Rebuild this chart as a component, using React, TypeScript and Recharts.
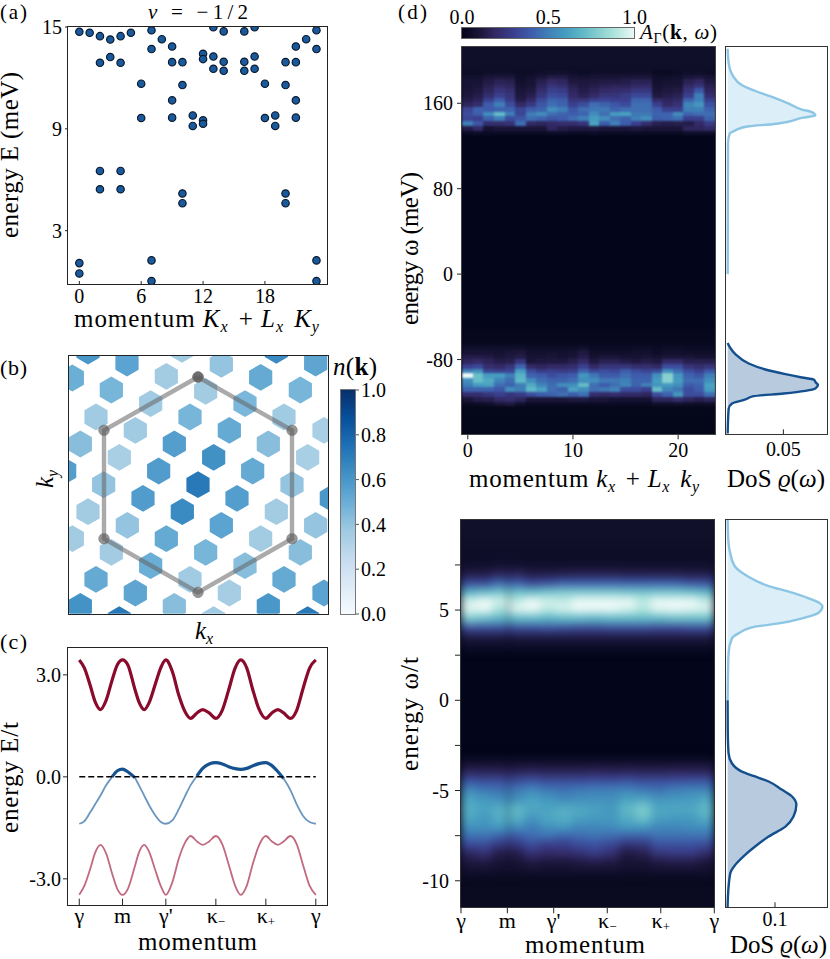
import {
  Area,
  ComposedChart,
  Line,
  ReferenceLine,
  Scatter,
  ScatterChart,
  XAxis,
  YAxis,
} from "recharts";

const SERIF = '"Liberation Serif", serif';

// (a) low energy spectrum, one entry per momentum
const spectrum: [number, number[]][] = [
  [0, [14.72, 1.09, 0.48]],
  [1, [14.66]],
  [2, [14.46, 12.89, 6.52, 5.44]],
  [3, [14.26, 13.23]],
  [4, [14.46, 12.89, 6.52, 5.44]],
  [5, [14.66]],
  [6, [11.66, 9.64]],
  [7, [14.81, 13.7, 1.25, 0.03]],
  [8, [14.28]],
  [9, [13.85, 12.93, 10.68, 9.66]],
  [10, [12.93, 11.58, 5.19, 4.62]],
  [11, [9.79, 9.17]],
  [12, [13.42, 13.11, 9.5, 9.3]],
  [13, [14.99, 13.26, 12.54]],
  [14, [14.74, 12.95, 12.42]],
  [16, [14.74, 12.95, 12.42]],
  [17, [14.99, 13.26, 12.54]],
  [18, [11.66, 9.64]],
  [19, [9.79, 9.17]],
  [20, [12.93, 11.58, 5.19, 4.62]],
  [21, [13.85, 12.93, 10.68, 9.66]],
  [22, [14.28]],
  [23, [14.81, 13.7, 1.25, 0.03]],
];

// (b) occupation n(k) on the momentum grid: kx, ky, n
const occupation: [number, number, number][] = [
  [-3.3, 4.01, 0.6], [-2.13, 3.65, 0.55], [-0.48, 4.06, 0.37], [0.7, 3.61, 0.4], [2.35, 4.03, 0.65], [3.53, 3.65, 0.54],
  [-3.77, 3.2, 0.5], [-0.95, 3.25, 0.36], [1.88, 3.22, 0.52], [-2.6, 2.84, 0.47], [0.23, 2.8, 0.36], [3.07, 2.84, 0.47],
  [-1.42, 2.43, 0.37], [1.41, 2.43, 0.46], [-3.06, 2.03, 0.37], [-0.24, 2.03, 0.47], [2.58, 2.03, 0.37],
  [-1.88, 1.63, 0.37], [0.94, 1.63, 0.52], [3.78, 1.63, 0.34], [-3.53, 1.22, 0.43], [-0.71, 1.22, 0.57], [2.11, 1.22, 0.43],
  [-2.36, 0.82, 0.34], [0.47, 0.82, 0.63], [3.29, 0.82, 0.34], [-4.0, 0.41, 0.57], [-1.18, 0.41, 0.58], [1.64, 0.41, 0.52],
  [-2.83, 0, 0.4], [0, 0, 0.72], [2.82, 0, 0.4], [-1.65, -0.41, 0.58], [1.17, -0.41, 0.57], [4.0, -0.41, 0.6],
  [-3.3, -0.81, 0.36], [-0.47, -0.81, 0.65], [2.35, -0.81, 0.36], [-2.12, -1.22, 0.4], [0.7, -1.22, 0.55], [3.53, -1.22, 0.4],
  [-3.77, -1.62, 0.36], [-0.95, -1.62, 0.52], [1.88, -1.62, 0.36], [-2.6, -2.03, 0.36], [0.23, -2.03, 0.47], [3.07, -2.03, 0.43],
  [-1.42, -2.43, 0.5], [1.41, -2.43, 0.43], [-3.06, -2.84, 0.52], [-0.24, -2.84, 0.37], [2.58, -2.84, 0.52],
  [-1.88, -3.25, 0.54], [0.94, -3.25, 0.35], [3.78, -3.25, 0.55], [-3.53, -3.65, 0.62], [-0.71, -3.65, 0.43], [2.11, -3.65, 0.6],
  [-2.36, -4.05, 0.72], [0.47, -4.05, 0.37], [3.29, -4.05, 0.72],
];
const brillouinZone = [
  { kx: 0, ky: 3.23 }, { kx: 2.82, ky: 1.63 }, { kx: 2.82, ky: -1.62 }, { kx: 0, ky: -3.23 },
  { kx: -2.82, ky: -1.62 }, { kx: -2.82, ky: 1.63 }, { kx: 0, ky: 3.23 },
];

// (c) bands along the path
const pathTicks = [0, 1, 2, 3.155, 4.31, 5.464];
const pathX = [0, 0.12, 0.25, 0.37, 0.49, 0.62, 0.76, 0.88, 1, 1.12, 1.28, 1.38, 1.5, 1.62, 1.75, 1.88, 2, 2.15, 2.3, 2.45, 2.57, 2.72, 2.85, 3, 3.155, 3.3, 3.45, 3.6, 3.73, 3.87, 4, 4.15, 4.31, 4.45, 4.59, 4.72, 4.88, 5.02, 5.17, 5.32, 5.464];
const bandUpper = [3.44, 3.2, 2.7, 2.2, 1.98, 2.25, 2.85, 3.3, 3.44, 3.3, 2.6, 2.2, 1.98, 2.2, 2.7, 3.2, 3.44, 3.1, 2.4, 1.9, 1.72, 1.88, 1.98, 1.88, 1.72, 1.95, 2.55, 3.2, 3.44, 3.2, 2.6, 2.0, 1.72, 1.88, 1.98, 1.88, 1.72, 1.95, 2.6, 3.2, 3.44];
const bandMiddle = [-1.38, -1.3, -1.05, -0.8, -0.55, -0.25, 0, 0.18, 0.23, 0.15, -0.02, -0.25, -0.55, -0.85, -1.12, -1.32, -1.38, -1.28, -0.95, -0.55, -0.25, 0.03, 0.25, 0.38, 0.42, 0.38, 0.3, 0.24, 0.22, 0.25, 0.32, 0.39, 0.42, 0.33, 0.15, -0.05, -0.4, -0.8, -1.15, -1.33, -1.38];
const bandLower = [-3.47, -3.2, -2.72, -2.22, -2.0, -2.25, -2.85, -3.3, -3.47, -3.3, -2.65, -2.22, -2.0, -2.22, -2.72, -3.2, -3.47, -3.1, -2.4, -1.92, -1.74, -1.9, -2.0, -1.9, -1.74, -1.97, -2.57, -3.2, -3.47, -3.2, -2.6, -2.02, -1.74, -1.9, -2.0, -1.9, -1.74, -1.97, -2.6, -3.2, -3.47];

// (d) top: spectral weight in percent, rows by frequency, one value per momentum
const meVRows: [number, number[]][] = [
  [189, [5, 5, 6, 6, 6, 5, 5, 6, 7, 7, 6, 5, 6, 6, 6, 6, 6, 6, 4, 4, 5, 6, 6, 5]],
  [184.6, [7, 7, 10, 11, 10, 6, 7, 10, 13, 13, 9, 8, 9, 9, 9, 10, 10, 10, 6, 6, 7, 10, 11, 9]],
  [180.3, [9, 9, 13, 16, 15, 7, 9, 15, 20, 18, 12, 11, 12, 13, 13, 14, 16, 16, 7, 8, 9, 16, 19, 12]],
  [175.9, [9, 10, 15, 20, 18, 8, 10, 18, 25, 22, 15, 12, 14, 16, 17, 17, 20, 20, 8, 10, 10, 20, 25, 15]],
  [171.6, [10, 12, 18, 25, 22, 10, 12, 22, 30, 28, 18, 14, 17, 20, 21, 22, 26, 26, 10, 12, 13, 25, 38, 18]],
  [167.2, [11, 14, 22, 30, 25, 11, 15, 26, 35, 33, 20, 16, 20, 25, 25, 28, 33, 33, 12, 14, 16, 30, 50, 22]],
  [162.8, [14, 17, 30, 40, 28, 14, 20, 33, 42, 40, 25, 25, 30, 32, 30, 30, 42, 42, 20, 18, 20, 42, 50, 30]],
  [158.5, [18, 22, 40, 50, 35, 20, 27, 38, 45, 42, 30, 35, 45, 42, 38, 34, 45, 45, 30, 20, 24, 52, 58, 36]],
  [154.1, [32, 42, 40, 42, 42, 32, 40, 42, 55, 50, 38, 45, 48, 48, 42, 45, 45, 45, 40, 30, 30, 50, 50, 42]],
  [149.7, [35, 40, 55, 72, 50, 32, 50, 55, 45, 42, 40, 42, 55, 45, 60, 62, 48, 48, 42, 42, 55, 42, 45, 45]],
  [145.4, [32, 30, 42, 50, 35, 38, 45, 42, 38, 40, 45, 50, 60, 55, 45, 42, 50, 55, 40, 42, 45, 30, 30, 42]],
  [141, [50, 38, 22, 22, 24, 45, 20, 18, 20, 22, 22, 25, 62, 40, 50, 40, 30, 22, 15, 14, 15, 14, 20, 28]],
  [136.6, [14, 20, 8, 10, 10, 10, 10, 10, 18, 14, 12, 12, 12, 10, 10, 10, 12, 10, 10, 10, 10, 18, 18, 20]],
  [132.2, [4, 5, 4, 4, 4, 4, 4, 4, 5, 5, 4, 4, 5, 4, 4, 4, 4, 4, 4, 4, 4, 6, 6, 6]],
  [-68.9, [6, 6, 6, 6, 6, 6, 5, 5, 5, 5, 5, 6, 4, 4, 4, 4, 5, 5, 4, 5, 5, 4, 4, 4]],
  [-73.3, [9, 9, 9, 8, 10, 11, 7, 7, 8, 7, 8, 12, 6, 6, 6, 6, 7, 7, 5, 7, 7, 6, 6, 6]],
  [-77.7, [14, 14, 13, 10, 12, 14, 9, 9, 10, 8, 10, 14, 8, 10, 10, 8, 8, 10, 8, 10, 10, 10, 8, 8]],
  [-82.1, [18, 20, 17, 14, 15, 25, 10, 12, 12, 12, 15, 20, 12, 16, 16, 14, 12, 14, 12, 20, 20, 15, 15, 15]],
  [-86.5, [30, 33, 22, 20, 25, 42, 20, 18, 20, 20, 22, 30, 20, 25, 25, 25, 22, 22, 20, 35, 35, 25, 22, 25]],
  [-90.9, [50, 55, 32, 30, 32, 60, 35, 28, 30, 28, 30, 42, 33, 35, 33, 40, 35, 32, 35, 55, 45, 35, 30, 38]],
  [-95.3, [100, 72, 60, 60, 50, 68, 42, 40, 35, 38, 40, 58, 48, 40, 40, 45, 40, 40, 55, 80, 58, 42, 38, 50]],
  [-99.7, [55, 72, 65, 52, 45, 70, 55, 45, 42, 42, 45, 55, 55, 48, 48, 50, 42, 42, 60, 80, 60, 45, 45, 55]],
  [-104, [50, 60, 62, 45, 42, 50, 65, 52, 45, 55, 55, 72, 45, 40, 45, 52, 42, 50, 58, 60, 55, 40, 42, 62]],
  [-108.4, [42, 42, 42, 38, 55, 50, 70, 62, 45, 42, 62, 55, 45, 48, 52, 35, 35, 30, 72, 52, 48, 35, 40, 60]],
  [-112.8, [22, 22, 25, 30, 25, 28, 35, 40, 42, 45, 40, 45, 22, 20, 22, 20, 20, 18, 35, 42, 58, 35, 35, 45]],
  [-117.2, [10, 14, 15, 20, 22, 18, 10, 10, 10, 10, 12, 12, 10, 10, 8, 8, 8, 8, 18, 18, 22, 18, 15, 18]],
  [-121.6, [4, 5, 6, 10, 12, 7, 4, 4, 4, 4, 4, 4, 4, 4, 4, 4, 4, 4, 6, 6, 7, 6, 5, 6]],
];
const meVMomenta = [0, 1, 2, 3, 4, 5, 6, 7, 8, 9, 10, 11, 12, 13, 14, 15, 16, 17, 18, 19, 20, 21, 22, 23];

// (d) bottom: same idea, coarser grid along the path (smoothed when drawn)
const pathColumns = [0.17, 0.51, 0.85, 1.2, 1.54, 1.88, 2.22, 2.56, 2.9, 3.24, 3.59, 3.93, 4.27, 4.61, 4.95, 5.29];
const tRows: [number, number[]][] = [
  [8, [5, 5, 5, 5, 5, 5, 5, 5, 5, 5, 5, 5, 5, 5, 5, 5]],
  [7.5, [6, 6, 7, 7, 6, 6, 6, 6, 6, 6, 6, 6, 6, 6, 6, 6]],
  [7, [13, 13, 17, 17, 13, 13, 14, 15, 15, 15, 14, 14, 14, 14, 13, 13]],
  [6.5, [33, 33, 42, 40, 32, 35, 40, 40, 40, 41, 40, 40, 41, 40, 36, 35]],
  [6, [66, 70, 74, 72, 70, 74, 76, 76, 76, 76, 74, 74, 74, 74, 72, 68]],
  [5.5, [95, 100, 95, 92, 100, 95, 93, 100, 100, 100, 100, 92, 100, 100, 100, 93]],
  [5, [98, 100, 88, 98, 100, 92, 96, 100, 100, 100, 96, 90, 98, 100, 98, 96]],
  [4.5, [76, 72, 68, 70, 70, 68, 70, 70, 68, 70, 70, 70, 70, 72, 72, 72]],
  [4, [34, 34, 34, 34, 34, 36, 34, 32, 32, 34, 34, 34, 32, 32, 34, 34]],
  [3.5, [12, 12, 12, 12, 12, 12, 12, 12, 12, 12, 12, 12, 12, 12, 12, 12]],
  [3, [5, 5, 5, 5, 5, 5, 5, 5, 5, 5, 5, 5, 5, 5, 5, 5]],
  [-3.5, [8, 8, 8, 8, 8, 8, 8, 8, 8, 8, 8, 8, 8, 8, 8, 8]],
  [-4, [19, 18, 18, 18, 19, 18, 18, 18, 19, 18, 19, 18, 18, 19, 19, 19]],
  [-4.5, [38, 36, 36, 36, 39, 36, 36, 36, 37, 37, 38, 36, 36, 37, 38, 38]],
  [-5, [54, 49, 47, 49, 54, 49, 47, 49, 51, 51, 53, 49, 47, 51, 53, 53]],
  [-5.5, [63, 59, 56, 56, 62, 59, 54, 56, 56, 56, 62, 64, 58, 59, 60, 64]],
  [-6, [66, 62, 66, 70, 64, 62, 66, 64, 62, 59, 70, 77, 64, 64, 64, 70]],
  [-6.5, [64, 59, 66, 68, 59, 64, 66, 62, 60, 59, 66, 74, 62, 60, 60, 66]],
  [-7, [57, 57, 60, 57, 50, 57, 60, 53, 53, 55, 60, 60, 53, 53, 55, 57]],
  [-7.5, [47, 47, 43, 40, 45, 47, 43, 45, 47, 45, 43, 43, 47, 47, 47, 47]],
  [-8, [34, 34, 26, 26, 34, 29, 29, 34, 36, 32, 24, 26, 36, 36, 36, 34]],
  [-8.5, [18, 23, 14, 14, 23, 20, 21, 23, 28, 23, 12, 15, 25, 27, 27, 21]],
  [-9, [11, 12, 9, 9, 12, 10, 10, 12, 13, 12, 9, 9, 12, 13, 13, 10]],
  [-9.5, [7, 7, 6, 6, 7, 7, 7, 7, 7, 7, 6, 6, 7, 7, 7, 7]],
];

// (d) density of states: frequency, rho
const dosMeVUpper = [[211, 0], [197.1, 0.001], [186.2, 0.0045], [176.9, 0.0129], [171.5, 0.0248], [165.9, 0.0398], [159.7, 0.0548], [154.1, 0.0667], [151.9, 0.0751], [148.5, 0.0787], [146.3, 0.0667], [142.5, 0.0533], [140.3, 0.0398], [138.5, 0.0189], [134.7, 0.0069], [131.6, 0.0018], [122.2, 0.0003], [40, 0.0001], [0, 0]];
const dosMeVLower = [[-64.4, 0], [-68.1, 0.0018], [-75, 0.0069], [-83.7, 0.0189], [-89.3, 0.0338], [-93.7, 0.0518], [-96.8, 0.0667], [-98.7, 0.0772], [-101.8, 0.0793], [-103.7, 0.0811], [-107.1, 0.0787], [-109.3, 0.0697], [-111.8, 0.0503], [-114.3, 0.0233], [-117.4, 0.0159], [-121.2, 0.0039], [-125.9, 0.0009], [-149.3, 0]];
const dosTUpper = [[9.99, 0], [8.69, 0.002], [8.14, 0.0056], [7.4, 0.016], [6.85, 0.044], [6.33, 0.0865], [6.02, 0.129], [5.65, 0.171], [5.37, 0.195], [5.18, 0.2], [4.85, 0.192], [4.54, 0.157], [4.26, 0.108], [4.08, 0.058], [3.71, 0.023], [3.43, 0.009], [2.6, 0.002], [0, 0]];
const dosTLower = [[0, 0], [-1.64, 0.0003], [-2.93, 0.002], [-3.49, 0.009], [-3.95, 0.03], [-4.22, 0.058], [-4.5, 0.0865], [-4.96, 0.115], [-5.33, 0.136], [-5.79, 0.145], [-6.44, 0.139], [-7, 0.122], [-7.55, 0.0865], [-8.1, 0.058], [-8.56, 0.037], [-9.12, 0.016], [-9.58, 0.0056], [-10.87, 0.0007], [-11.47, 0]];

const spectrumPoints = spectrum.flatMap(([k, levels]) => levels.map((E) => ({ k, E })));
const occupationPoints = occupation.map(([kx, ky, n]) => ({ kx, ky, n }));
const bandTable = pathX.map((x, i) => ({
  x,
  upper: bandUpper[i],
  middle: bandMiddle[i],
  lower: bandLower[i],
  occupied: bandMiddle[i] >= -0.06 ? bandMiddle[i] : null,
}));
const toDos = (rows: number[][]) => rows.map(([w, rho]) => ({ w, rho }));
const toCells = (rows: [number, number[]][], cols: number[]) =>
  rows.flatMap(([w, values]) =>
    values.map((v, i) => ({ k: cols[i], w, v, first: i === 0, last: i === cols.length - 1 })),
  );

const BLUES = ["#f7fbff", "#deebf7", "#c6dbef", "#9ecae1", "#6baed6", "#4292c6", "#2171b5", "#08519c", "#08306b"];
const SPECTRAL = ["#03051a", "#0d0d28", "#1a1538", "#332a66", "#3a3f8e", "#3e5cab", "#3f7fb8", "#459cc0", "#5fb8c6", "#88d0d0", "#b5e6de", "#e9f8f5"];
const SPECTRAL_AT = [0, 0.05, 0.1, 0.2, 0.3, 0.4, 0.5, 0.6, 0.7, 0.8, 0.9, 1];
const barLevels = Array.from({ length: 101 }, (_, i) => i / 100);

function mix(a: string, b: string, t: number) {
  const ch = (s: string, i: number) => parseInt(s.slice(1 + i * 2, 3 + i * 2), 16);
  const part = (i: number) => Math.round(ch(a, i) + (ch(b, i) - ch(a, i)) * t);
  return `rgb(${part(0)},${part(1)},${part(2)})`;
}
function blues(v: number) {
  const p = Math.min(v, 0.999) * (BLUES.length - 1);
  const i = Math.floor(p);
  return mix(BLUES[i], BLUES[i + 1], p - i);
}
function spectral(v: number) {
  let i = 0;
  while (i < SPECTRAL_AT.length - 2 && v > SPECTRAL_AT[i + 1]) i++;
  return mix(SPECTRAL[i], SPECTRAL[i + 1], (v - SPECTRAL_AT[i]) / (SPECTRAL_AT[i + 1] - SPECTRAL_AT[i]));
}

type Plot = { x0: number; y0: number; x1: number; y1: number };
const GL = 64;
const GT = 14;
const GR = 8;
const GB = 46;
const tickFont = { fontSize: 20, fontFamily: SERIF, fill: "#000" };

const PA: Plot = { x0: 68, y0: 26.5, x1: 327.3, y1: 284.5 };
const PB: Plot = { x0: 68.3, y0: 355.3, x1: 328.3, y1: 614 };
const PBC: Plot = { x0: 341, y0: 390, x1: 355, y1: 614 };
const PC: Plot = { x0: 67.5, y0: 648, x1: 327, y1: 905.7 };
const PDC: Plot = { x0: 461.5, y0: 27.5, x1: 634, y1: 38.5 };
const PD1: Plot = { x0: 461.7, y0: 46.7, x1: 715.7, y1: 434 };
const PD2: Plot = { x0: 725.7, y0: 46.7, x1: 827.3, y1: 434 };
const PD3: Plot = { x0: 461, y0: 520, x1: 714.3, y1: 907.3 };
const PD4: Plot = { x0: 725.7, y0: 520, x1: 827, y1: 907.3 };

const frameProps = (p: Plot) => ({
  width: p.x1 - p.x0 + GL + GR,
  height: p.y1 - p.y0 + GT + GB,
  margin: { top: GT, right: GR, left: 0, bottom: 0 },
});

function At({ plot, children }: { plot: Plot; children: any }) {
  return <div style={{ position: "absolute", left: plot.x0 - GL, top: plot.y0 - GT }}>{children}</div>;
}

function Frame({ plot, color = "#222", w = 1.4 }: { plot: Plot; color?: string; w?: number }) {
  return (
    <div
      style={{
        position: "absolute",
        left: plot.x0 - w / 2,
        top: plot.y0 - w / 2,
        width: plot.x1 - plot.x0 + w,
        height: plot.y1 - plot.y0 + w,
        boxSizing: "border-box",
        border: `${w}px solid ${color}`,
      }}
    />
  );
}

const SpectrumDot = ({ cx, cy }: any) => <circle cx={cx} cy={cy} r={3.7} fill="#1a5a9c" stroke="#0a1a2e" strokeWidth={1.2} />;

const HexCell = ({ cx, cy, payload }: any) => {
  const r = 13.4;
  const w = r * 0.866;
  const pts = [[0, -r], [w, -r / 2], [w, r / 2], [0, r], [-w, r / 2], [-w, -r / 2]]
    .map(([dx, dy]) => `${cx + dx},${cy + dy}`)
    .join(" ");
  return <polygon points={pts} fill={blues(payload.n)} />;
};

const ZoneDot = ({ cx, cy }: any) => <circle cx={cx} cy={cy} r={5.3} fill="rgba(85,85,85,0.62)" stroke="rgba(120,120,120,0.6)" strokeWidth={1} />;

const PATH_LABELS: [string, string?][] = [["γ"], ["m"], ["γ'"], ["κ", "−"], ["κ", "+"], ["γ"]];

const PathTick = ({ x, y, payload, dy = 15 }: any) => {
  const [main, sub] = PATH_LABELS[pathTicks.indexOf(payload.value)];
  return (
    <text x={x} y={y + dy} textAnchor="middle" fontFamily={SERIF} fontSize={22} fill="#000">
      {main}
      {sub ? <tspan dy={3} fontSize={13}>{sub}</tspan> : null}
    </text>
  );
};

function HeatMap({ plot, cells, xDomain, yDomain, cellW, cellH, blur, background }: any) {
  const pad = 24;
  const w = plot.x1 - plot.x0;
  const h = plot.y1 - plot.y0;
  const Cell = ({ cx, cy, payload }: any) => (
    <rect
      x={cx - cellW / 2 - (payload.first ? pad : 0)}
      y={cy - cellH / 2}
      width={cellW + (payload.first ? pad : 0) + (payload.last ? pad : 0)}
      height={cellH}
      fill={spectral(payload.v / 100)}
      shapeRendering="crispEdges"
    />
  );
  return (
    <div style={{ position: "absolute", left: plot.x0, top: plot.y0, width: w, height: h, overflow: "hidden", background }}>
      <div style={{ position: "absolute", left: -pad, top: -pad, filter: `blur(${blur}px)` }}>
        <ScatterChart width={w + 2 * pad} height={h + 2 * pad} margin={{ top: pad, right: pad, bottom: pad, left: pad }}>
          <XAxis type="number" dataKey="k" domain={xDomain} hide allowDataOverflow />
          <YAxis type="number" dataKey="w" domain={yDomain} hide allowDataOverflow />
          <Scatter data={cells} shape={<Cell />} isAnimationActive={false} />
        </ScatterChart>
      </div>
    </div>
  );
}

function DosPanel({ plot, xDomain, yDomain, yTicks, xTick, upper, lower, labelGap }: any) {
  return (
    <At plot={plot}>
      <ComposedChart layout="vertical" {...frameProps(plot)}>
        <XAxis type="number" domain={xDomain} ticks={[xTick]} allowDataOverflow axisLine={false} tickSize={-5} tickMargin={labelGap} interval={0} tick={tickFont} height={GB} stroke="#222" />
        <YAxis type="number" dataKey="w" domain={yDomain} reversed allowDataOverflow axisLine={false} tickLine={false} tick={false} width={GL} />
        <YAxis yAxisId="in" type="number" domain={yDomain} ticks={yTicks} reversed allowDataOverflow axisLine={false} mirror width={0} tick={false} tickSize={5} interval={0} stroke="#222" />
        <Area data={upper} dataKey="rho" type="monotone" stroke="#8cc6e4" strokeWidth={2.4} fill="#8cc6e4" fillOpacity={0.3} isAnimationActive={false} dot={false} />
        <Area data={lower} dataKey="rho" type="monotone" stroke="#134f8e" strokeWidth={2.4} fill="#134f8e" fillOpacity={0.3} isAnimationActive={false} dot={false} />
      </ComposedChart>
    </At>
  );
}

function T({ x, y, rot, size = 25, len, anchor, children }: any) {
  return (
    <text
      x={x}
      y={y}
      fontFamily={SERIF}
      fontSize={size}
      fill="#000"
      textAnchor={anchor}
      transform={rot ? `rotate(-90 ${x} ${y})` : undefined}
      textLength={len}
      lengthAdjust={len ? "spacing" : undefined}
    >
      {children}
    </text>
  );
}

const Sub = ({ s }: { s: string }) => (
  <>
    <tspan dy={5} fontSize={16} fontStyle="italic">{s}</tspan>
    <tspan dy={-5}>{"\u200a"}</tspan>
  </>
);
const I = ({ s }: { s: string }) => <tspan fontStyle="italic">{s}</tspan>;

export default function App() {
  const spectrumXDomain = [-1.1, 24.05];
  const spectrumYDomain = [-0.2, 15];
  const bandYDomain = [-3.79, 3.79];
  const meVDomain = [-150, 212.7];
  const tDomain = [-11.47, 9.99];
  const pathDomain = [0, 5.464];

  const OccBarStrip = ({ cx, cy, payload }: any) => (
    <rect x={cx - 7} y={cy - 1.7} width={14} height={3.4} fill={blues(payload.v)} />
  );
  const SpecBarStrip = ({ cx, cy, payload }: any) => (
    <rect x={cx - 1.4} y={cy - 5.5} width={2.8} height={11} fill={spectral(payload.v)} />
  );

  return (
    <div style={{ position: "absolute", left: 0, top: 0, width: 830, height: 959, background: "#fff", overflow: "hidden" }}>
      {/* (a) */}
      <At plot={PA}>
        <ScatterChart {...frameProps(PA)}>
          <XAxis type="number" dataKey="k" domain={spectrumXDomain} ticks={[0, 6, 12, 18]} allowDataOverflow axisLine={false} tickSize={-4} tickMargin={8} interval={0} tick={tickFont} height={GB} stroke="#222" />
          <XAxis xAxisId="minor" type="number" domain={spectrumXDomain} ticks={[3, 9, 15, 21]} allowDataOverflow axisLine={false} mirror height={0} tick={false} tickSize={3} interval={0} stroke="#222" />
          <YAxis type="number" dataKey="E" domain={spectrumYDomain} ticks={[3, 9, 15]} allowDataOverflow axisLine={false} tickSize={3} tickMargin={3} interval={0} tick={tickFont} width={GL} stroke="#222" />
          <YAxis yAxisId="minor" type="number" domain={spectrumYDomain} ticks={[0, 6, 12]} allowDataOverflow axisLine={false} mirror width={0} tick={false} tickSize={6} interval={0} stroke="#222" />
          <Scatter data={spectrumPoints} shape={<SpectrumDot />} isAnimationActive={false} />
        </ScatterChart>
      </At>
      <Frame plot={PA} />

      {/* (b) */}
      <At plot={PB}>
        <ScatterChart {...frameProps(PB)}>
          <XAxis type="number" dataKey="kx" domain={[-3.9, 3.9]} allowDataOverflow tick={false} tickLine={false} axisLine={false} height={GB} />
          <YAxis type="number" dataKey="ky" domain={[-3.87, 3.89]} allowDataOverflow tick={false} tickLine={false} axisLine={false} width={GL} />
          <Scatter data={occupationPoints} shape={<HexCell />} isAnimationActive={false} />
          <Scatter data={brillouinZone} shape={<ZoneDot />} line={{ stroke: "rgba(100,100,100,0.55)", strokeWidth: 4.4 }} isAnimationActive={false} />
        </ScatterChart>
      </At>
      <Frame plot={PB} />

      {/* (b) colour bar */}
      <div style={{ position: "absolute", left: PBC.x0, top: PBC.y0 - GT }}>
        <ScatterChart width={14 + 50} height={224 + 2 * GT} margin={{ top: GT, bottom: GT, left: 0, right: 0 }}>
          <XAxis type="number" dataKey="x" domain={[0, 1]} hide allowDataOverflow />
          <YAxis type="number" dataKey="v" orientation="right" domain={[0, 1]} ticks={[0, 0.2, 0.4, 0.6, 0.8, 1]} tickFormatter={(v: number) => v.toFixed(1)} allowDataOverflow axisLine={false} tickSize={4} tickMargin={2} interval={0} tick={tickFont} width={50} stroke="#555" />
          <Scatter data={barLevels.map((v) => ({ x: 0.5, v }))} shape={<OccBarStrip />} isAnimationActive={false} />
        </ScatterChart>
      </div>
      <Frame plot={PBC} color="#777" w={1.2} />

      {/* (c) */}
      <At plot={PC}>
        <ComposedChart {...frameProps(PC)} data={bandTable}>
          <XAxis type="number" dataKey="x" domain={[-0.26, 5.734]} ticks={pathTicks} allowDataOverflow axisLine={false} tickSize={-7} tickMargin={11} interval={0} tick={<PathTick dy={13} />} height={GB} stroke="#222" />
          <YAxis type="number" domain={bandYDomain} ticks={[-3, 0, 3]} tickFormatter={(v: number) => v.toFixed(1)} allowDataOverflow axisLine={false} tickSize={5} tickMargin={2} interval={0} tick={tickFont} width={GL} stroke="#222" />
          <YAxis yAxisId="minor" type="number" domain={bandYDomain} ticks={[-1.5, 1.5]} allowDataOverflow axisLine={false} mirror width={0} tick={false} tickSize={7} interval={0} stroke="#222" />
          <Line dataKey="lower" type="monotone" stroke="#c0697f" strokeWidth={1.8} dot={false} isAnimationActive={false} />
          <Line dataKey="middle" type="monotone" stroke="#6a96bf" strokeWidth={1.8} dot={false} isAnimationActive={false} />
          <Line dataKey="occupied" type="monotone" stroke="#15528f" strokeWidth={3.2} dot={false} isAnimationActive={false} />
          <Line dataKey="upper" type="monotone" stroke="#8a0a2c" strokeWidth={3.2} dot={false} isAnimationActive={false} />
          <ReferenceLine segment={[{ x: 0, y: 0 }, { x: 5.464, y: 0 }]} stroke="#000" strokeWidth={1.5} strokeDasharray="6 3" />
        </ComposedChart>
      </At>
      <Frame plot={PC} />

      {/* (d) colour bar */}
      <div style={{ position: "absolute", left: PDC.x0 - 20, top: PDC.y0 - 26 }}>
        <ScatterChart width={172.5 + 40} height={11 + 26 + 4} margin={{ top: 0, bottom: 4, left: 20, right: 20 }}>
          <XAxis type="number" dataKey="v" orientation="top" domain={[0, 1]} ticks={[0, 0.5, 1]} tickFormatter={(v: number) => v.toFixed(1)} allowDataOverflow axisLine={false} tickSize={-4} tickMargin={8} interval={0} tick={tickFont} height={26} stroke="#555" />
          <YAxis type="number" dataKey="y" domain={[0, 1]} hide allowDataOverflow />
          <Scatter data={barLevels.map((v) => ({ v, y: 0.5 }))} shape={<SpecBarStrip />} isAnimationActive={false} />
        </ScatterChart>
      </div>
      <Frame plot={PDC} color="#666" w={1.1} />

      {/* (d) heat maps */}
      <HeatMap
        plot={PD1}
        cells={toCells(meVRows, meVMomenta)}
        xDomain={[-0.55, 23.6]}
        yDomain={meVDomain}
        cellW={10.7}
        cellH={4.9}
        blur={0.9}
        background="linear-gradient(to bottom, #0f0f2a 0%, #0e0e28 6.7%, #03051a 23%, #03051a 70%, #07071e 75%, #08081f 77.6%, #06071a 92.6%, #04061a 100%)"
      />
      <At plot={PD1}>
        <ScatterChart {...frameProps(PD1)}>
          <XAxis type="number" dataKey="k" domain={[-0.55, 23.6]} ticks={[0, 10, 20]} allowDataOverflow axisLine={false} tickSize={5} tickMargin={4} interval={0} tick={tickFont} height={GB} stroke="#222" />
          <YAxis type="number" dataKey="w" domain={meVDomain} ticks={[-80, 0, 80, 160]} allowDataOverflow axisLine={false} tickSize={5} tickMargin={4} interval={0} tick={tickFont} width={GL} stroke="#222" />
          <Scatter data={[]} isAnimationActive={false} />
        </ScatterChart>
      </At>
      <Frame plot={PD1} color="#444" />

      <HeatMap
        plot={PD3}
        cells={toCells(tRows, pathColumns)}
        xDomain={pathDomain}
        yDomain={tDomain}
        cellW={15.9}
        cellH={9.2}
        blur={4}
        background="linear-gradient(to bottom, #10102b 0%, #0e0e28 13%, #03051a 35%, #03051a 60%, #06071d 82%, #0a0a20 100%)"
      />
      <At plot={PD3}>
        <ScatterChart {...frameProps(PD3)}>
          <XAxis type="number" dataKey="k" domain={pathDomain} ticks={pathTicks} allowDataOverflow axisLine={false} tickSize={6} tickMargin={2} interval={0} tick={<PathTick dy={13} />} height={GB} stroke="#222" />
          <YAxis type="number" dataKey="w" domain={tDomain} ticks={[-10, -7.5, -5, -2.5, 0, 2.5, 5, 7.5]} tickFormatter={(v: number) => (Number.isInteger(v) ? String(v) : "")} allowDataOverflow axisLine={false} tickSize={6} tickMargin={6} interval={0} tick={tickFont} width={GL} stroke="#222" />
          <Scatter data={[]} isAnimationActive={false} />
        </ScatterChart>
      </At>
      <Frame plot={PD3} color="#333" />

      {/* (d) density of states */}
      <DosPanel plot={PD2} xDomain={[-0.0015, 0.0897]} yDomain={meVDomain} yTicks={[-80, 0, 80, 160]} xTick={0.05} upper={toDos(dosMeVUpper)} lower={toDos(dosMeVLower)} labelGap={13} />
      <Frame plot={PD2} color="#333" />
      <DosPanel plot={PD4} xDomain={[-0.0034, 0.2103]} yDomain={tDomain} yTicks={[-10, -7.5, -5, -2.5, 0, 2.5, 5, 7.5]} xTick={0.1} upper={toDos(dosTUpper)} lower={toDos(dosTLower)} labelGap={10} />
      <Frame plot={PD4} color="#333" />

      {/* text that the axes do not draw themselves */}
      <svg width={830} height={959} style={{ position: "absolute", left: 0, top: 0, pointerEvents: "none" }}>
        <T x={0} y={19} size={21} len={27}>(a)</T>
        <T x={148} y={19} size={21} len={100}><I s="ν" /> = −1/2</T>
        <T x={74} y={327} len={248}>momentum <I s="K" /><Sub s="x" /> + <I s="L" /><Sub s="x" /> <I s="K" /><Sub s="y" /></T>
        <T x={18} y={238} rot len={166}>energy E (meV)</T>

        <T x={0} y={375} size={22} len={27}>(b)</T>
        <T x={53} y={488} rot><I s="k" /><Sub s="y" /></T>
        <T x={195} y={639}><I s="k" /><Sub s="x" /></T>
        <T x={333} y={375} len={44}><I s="n" />(<tspan fontWeight="bold">k</tspan>)</T>

        <T x={0} y={649} size={22} len={27}>(c)</T>
        <T x={18} y={833} rot len={111}>energy E/t</T>
        <T x={138} y={950} len={119}>momentum</T>

        <T x={398} y={19} size={21} len={29}>(d)</T>
        <T x={640} y={39} size={21} len={77}><I s="A" /><tspan dy={4} fontSize={14}>Γ</tspan><tspan dy={-4}>(</tspan><tspan fontWeight="bold">k</tspan>, <I s="ω" />)</T>
        <T x={418} y={325} rot len={153}>energy ω (meV)</T>
        <T x={469} y={487} len={233}>momentum <I s="k" /><Sub s="x" /> + <I s="L" /><Sub s="x" /> <I s="k" /><Sub s="y" /></T>
        <T x={727} y={487} len={98}>DoS <I s="ϱ" />(<I s="ω" />)</T>
        <T x={418} y={771} rot len={114}>energy ω/t</T>
        <T x={525} y={953} len={120}>momentum</T>
        <T x={730} y={953} len={97}>DoS <I s="ϱ" />(<I s="ω" />)</T>
      </svg>
    </div>
  );
}
